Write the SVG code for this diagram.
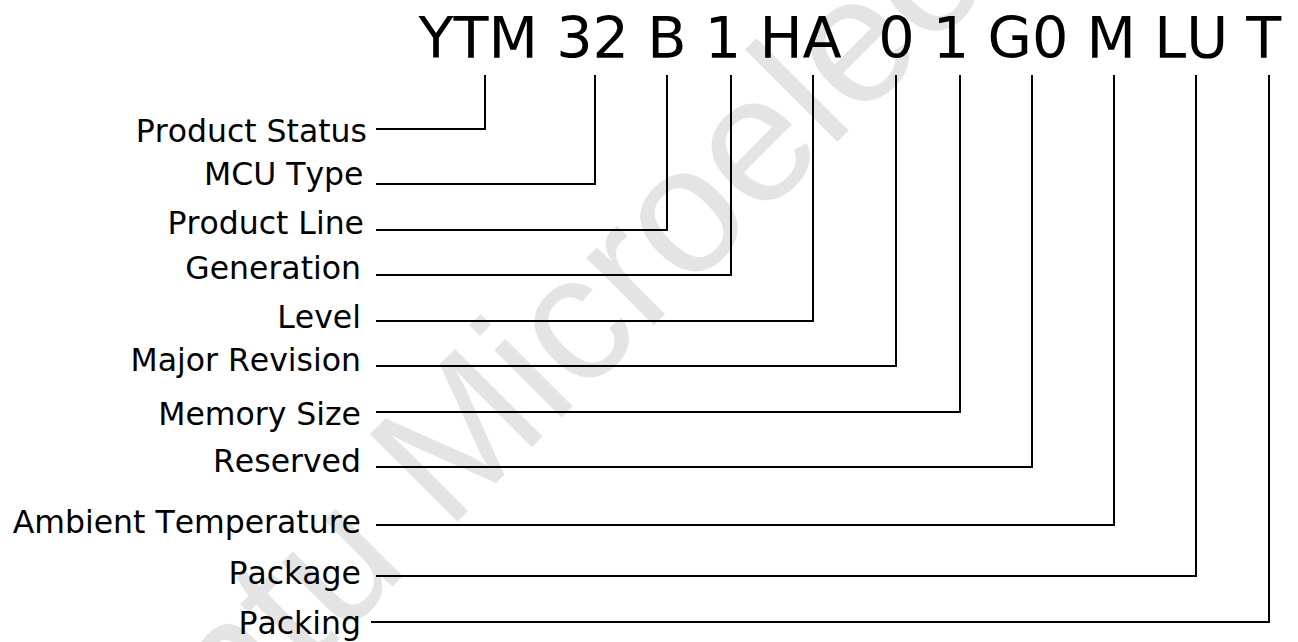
<svg xmlns="http://www.w3.org/2000/svg" width="1298" height="642" viewBox="0 0 1298 642">
<style>
.lbl{font-family:"DejaVu Sans",sans-serif;font-size:31.5px;fill:#000;text-anchor:end;font-kerning:none}
.title{font-family:"DejaVu Sans",sans-serif;font-size:57.3px;fill:#000;font-kerning:none}
.wm{font-family:"Liberation Sans",Arial,sans-serif;font-size:180px;fill:#e4e4e4}
.conn path{fill:none;stroke:#000;stroke-width:2;stroke-linejoin:miter}
</style>
<rect width="1298" height="642" fill="#fff"/>
<g id="watermark"><text class="wm" transform="translate(86,893) rotate(-45)">Yuntu Microelectronics</text></g>
<g id="title"><text class="title" x="418.5" y="57.5" xml:space="preserve">YTM 32 B 1 HA  0 1 G0 M LU T</text></g>
<g class="conn" id="connectors">
<path d="M376 129H485V75"/>
<path d="M376 184H595V75"/>
<path d="M376 230H667V75"/>
<path d="M376 275H731V75"/>
<path d="M376 321H813V75"/>
<path d="M376 366H896V75"/>
<path d="M376 412H960V75"/>
<path d="M376 467H1032V75"/>
<path d="M376 525H1114V75"/>
<path d="M376 576H1196V75"/>
<path d="M371 622H1269V75"/>
</g>
<g id="n-status"><text class="lbl" x="367" y="141.5">Product Status</text></g>
<g id="n-mcu"><text class="lbl" x="363.5" y="184.5">MCU Type</text></g>
<g id="n-line"><text class="lbl" x="364" y="233.5">Product Line</text></g>
<g id="n-gen"><text class="lbl" x="361" y="278.5">Generation</text></g>
<g id="n-level"><text class="lbl" x="361" y="328">Level</text></g>
<g id="n-major"><text class="lbl" x="361" y="370.5">Major Revision</text></g>
<g id="n-mem"><text class="lbl" x="361" y="425">Memory Size</text></g>
<g id="n-res"><text class="lbl" x="361" y="472">Reserved</text></g>
<g id="n-temp"><text class="lbl" x="361" y="532.5">Ambient Temperature</text></g>
<g id="n-pkg"><text class="lbl" x="361" y="583.5">Package</text></g>
<g id="n-packing"><text class="lbl" x="361" y="633.5">Packing</text></g>
</svg>
